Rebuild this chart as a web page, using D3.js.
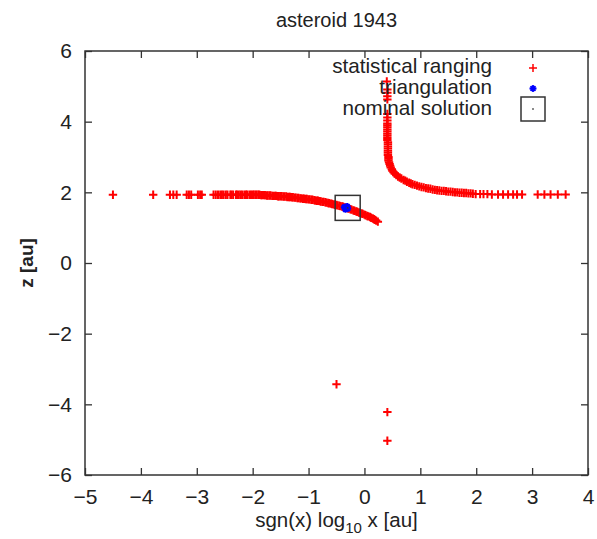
<!DOCTYPE html>
<html>
<head>
<meta charset="utf-8">
<script src="https://cdn.jsdelivr.net/npm/d3@7"></script>
<style>
  body { margin: 0; background: #fff; }
  text { font-family: "Liberation Sans", Arial, sans-serif; fill: #222; }
</style>
</head>
<body>
<div id="chart"></div>
<script>
// statistical ranging samples [sgn(x) log10 x, z]
const rangingLeft = [
  [-4.50, 1.93], [-3.78, 1.93], [-3.48, 1.93], [-3.42, 1.93], [-3.36, 1.93], [-3.18, 1.93],
  [-3.14, 1.93], [-3.10, 1.93], [-2.98, 1.93], [-2.94, 1.93], [-2.91, 1.93], [-2.70, 1.93],
  [-2.66, 1.93], [-2.62, 1.93], [-2.58, 1.93], [-2.55, 1.93], [-2.52, 1.93], [-2.48, 1.93],
  [-2.45, 1.93], [-2.40, 1.93], [-2.38, 1.93], [-2.35, 1.93], [-2.30, 1.93], [-2.28, 1.93],
  [-2.25, 1.93], [-2.22, 1.93], [-2.19, 1.93], [-2.15, 1.93], [-2.12, 1.93], [-2.10, 1.93],
  [-2.06, 1.93], [-2.03, 1.93], [-2.00, 1.93],
  [-1.98, 1.93], [-1.95, 1.93], [-1.93, 1.93], [-1.90, 1.93], [-1.88, 1.93], [-1.85, 1.92],
  [-1.83, 1.92], [-1.80, 1.92], [-1.78, 1.92], [-1.75, 1.91], [-1.73, 1.91], [-1.70, 1.91],
  [-1.68, 1.91], [-1.65, 1.90], [-1.63, 1.90], [-1.60, 1.90], [-1.58, 1.90], [-1.55, 1.89],
  [-1.53, 1.89], [-1.50, 1.89], [-1.48, 1.89], [-1.45, 1.88], [-1.43, 1.88], [-1.40, 1.88],
  [-1.38, 1.87], [-1.35, 1.87], [-1.33, 1.87], [-1.30, 1.86], [-1.28, 1.86], [-1.25, 1.85],
  [-1.23, 1.85], [-1.20, 1.84], [-1.18, 1.84], [-1.15, 1.83], [-1.13, 1.83], [-1.10, 1.82],
  [-1.08, 1.82], [-1.05, 1.81], [-1.03, 1.81], [-1.00, 1.80], [-0.98, 1.80], [-0.95, 1.79],
  [-0.93, 1.79], [-0.90, 1.78], [-0.88, 1.77], [-0.85, 1.76], [-0.83, 1.76], [-0.80, 1.75],
  [-0.78, 1.74], [-0.75, 1.73], [-0.73, 1.73], [-0.70, 1.72], [-0.68, 1.71], [-0.65, 1.70],
  [-0.63, 1.69], [-0.60, 1.68], [-0.58, 1.67], [-0.55, 1.66], [-0.53, 1.65], [-0.50, 1.64],
  [-0.48, 1.63], [-0.45, 1.62], [-0.43, 1.61], [-0.40, 1.60], [-0.38, 1.59], [-0.35, 1.57],
  [-0.33, 1.56], [-0.30, 1.55], [-0.28, 1.54], [-0.25, 1.52], [-0.23, 1.51], [-0.20, 1.49],
  [-0.18, 1.48], [-0.15, 1.46], [-0.13, 1.45], [-0.10, 1.43], [-0.08, 1.42], [-0.05, 1.40],
  [-0.03, 1.39], [0.00, 1.37], [0.02, 1.35], [0.05, 1.33], [0.07, 1.32], [0.10, 1.30],
  [0.12, 1.28], [0.15, 1.26], [0.17, 1.24], [0.19, 1.22], [0.21, 1.20], [0.24, 1.17]
];

const rangingRight = [
  [0.40, 5.14], [0.41, 4.91], [0.41, 4.82], [0.41, 4.72], [0.41, 4.63], [0.41, 4.22],
  [0.41, 4.12], [0.41, 4.03], [0.41, 3.95],
  [0.41, 3.90], [0.41, 3.84], [0.41, 3.78], [0.41, 3.72], [0.41, 3.66], [0.41, 3.60],
  [0.41, 3.54], [0.41, 3.48], [0.42, 3.42], [0.42, 3.36], [0.42, 3.30], [0.42, 3.24],
  [0.42, 3.18], [0.42, 3.12], [0.42, 3.06], [0.43, 3.00], [0.43, 2.95], [0.43, 2.90],
  [0.44, 2.85], [0.45, 2.80], [0.46, 2.75], [0.47, 2.70], [0.49, 2.65], [0.50, 2.61],
  [0.52, 2.57], [0.54, 2.53], [0.57, 2.49], [0.60, 2.45], [0.63, 2.42], [0.66, 2.39],
  [0.70, 2.35], [0.73, 2.33], [0.76, 2.30], [0.80, 2.27], [0.83, 2.25], [0.86, 2.23],
  [0.90, 2.21], [0.94, 2.19], [0.98, 2.17], [1.02, 2.15], [1.06, 2.14], [1.10, 2.12],
  [1.14, 2.11], [1.18, 2.10], [1.22, 2.08], [1.26, 2.07], [1.30, 2.06], [1.34, 2.05],
  [1.38, 2.04], [1.42, 2.04], [1.46, 2.03], [1.50, 2.02], [1.54, 2.02], [1.58, 2.01],
  [1.62, 2.00], [1.66, 2.00], [1.70, 1.99], [1.74, 1.99], [1.78, 1.98], [1.82, 1.98],
  [1.86, 1.97], [1.90, 1.97], [1.94, 1.96],
  [1.99, 1.95], [2.07, 1.95], [2.13, 1.95], [2.20, 1.95], [2.28, 1.94], [2.39, 1.94],
  [2.48, 1.94], [2.57, 1.94], [2.66, 1.94], [2.73, 1.94], [2.82, 1.94], [3.10, 1.94],
  [3.22, 1.94], [3.33, 1.94], [3.46, 1.94], [3.60, 1.94]
];

const rangingOutliers = [[-0.50, -3.43], [0.41, -4.22], [0.41, -5.03]];

const triangulation = [[-0.36, 1.58], [-0.33, 1.56], [-0.30, 1.54], [-0.34, 1.52], [-0.31, 1.60]];

const nominal = [[-0.30, 1.56]];

const xTicks = [-5, -4, -3, -2, -1, 0, 1, 2, 3, 4];
const yTicks = [-6, -4, -2, 0, 2, 4, 6];
const legendLabels = ["statistical ranging", "triangulation", "nominal solution"];

const width = 597, height = 539;
const margin = { top: 51, right: 9, bottom: 64, left: 85 };

const svg = d3.select("#chart").append("svg")
  .attr("width", width)
  .attr("height", height);

const x = d3.scaleLinear().domain([-5, 4]).range([margin.left, width - margin.right]);
const y = d3.scaleLinear().domain([-6, 6]).range([height - margin.bottom, margin.top]);

const frameColor = "#333";

// ticks on all four sides, pointing inward
const tickLen = 7;
svg.append("g")
  .attr("transform", `translate(0,${y(-6)})`)
  .call(d3.axisBottom(x).tickValues(xTicks).tickSize(-tickLen).tickPadding(14).tickFormat(d3.format("d")))
  .call(g => g.select(".domain").remove())
  .call(g => g.selectAll("line").attr("stroke", frameColor).attr("stroke-width", 1.3))
  .call(g => g.selectAll("text").attr("font-size", 21).attr("fill", "#222")
    .attr("font-family", "Liberation Sans, Arial, sans-serif"));

svg.append("g")
  .attr("transform", `translate(0,${y(6)})`)
  .call(d3.axisTop(x).tickValues(xTicks).tickSize(-tickLen).tickFormat(""))
  .call(g => g.select(".domain").remove())
  .call(g => g.selectAll("line").attr("stroke", frameColor).attr("stroke-width", 1.3));

svg.append("g")
  .attr("transform", `translate(${x(-5)},0)`)
  .call(d3.axisLeft(y).tickValues(yTicks).tickSize(-tickLen).tickPadding(13).tickFormat(d3.format("d")))
  .call(g => g.select(".domain").remove())
  .call(g => g.selectAll("line").attr("stroke", frameColor).attr("stroke-width", 1.3))
  .call(g => g.selectAll("text").attr("font-size", 21).attr("fill", "#222")
    .attr("font-family", "Liberation Sans, Arial, sans-serif"));

svg.append("g")
  .attr("transform", `translate(${x(4)},0)`)
  .call(d3.axisRight(y).tickValues(yTicks).tickSize(-tickLen).tickFormat(""))
  .call(g => g.select(".domain").remove())
  .call(g => g.selectAll("line").attr("stroke", frameColor).attr("stroke-width", 1.3));

// frame
svg.append("rect")
  .attr("x", x(-5)).attr("y", y(6))
  .attr("width", x(4) - x(-5)).attr("height", y(-6) - y(6))
  .attr("fill", "none").attr("stroke", frameColor).attr("stroke-width", 1.5);

// marker shapes
const plusPath = s => `M${-s},0H${s}M0,${-s}V${s}`;
const starPath = s => `M${-s},0H${s}M0,${-s}V${s}M${-s * 0.7},${-s * 0.7}L${s * 0.7},${s * 0.7}M${-s * 0.7},${s * 0.7}L${s * 0.7},${-s * 0.7}`;

const plot = svg.append("g");

const ranging = rangingLeft.concat(rangingRight, rangingOutliers);
plot.selectAll(".ranging")
  .data(ranging)
  .enter()
  .append("path")
  .attr("class", "ranging")
  .attr("transform", d => `translate(${x(d[0])},${y(d[1])})`)
  .attr("d", plusPath(4.2))
  .attr("stroke", "#ff0000")
  .attr("stroke-width", 2)
  .attr("fill", "none");

plot.selectAll(".tri")
  .data(triangulation)
  .enter()
  .append("path")
  .attr("class", "tri")
  .attr("transform", d => `translate(${x(d[0])},${y(d[1])})`)
  .attr("d", starPath(3.5))
  .attr("stroke", "#0000ff")
  .attr("stroke-width", 2)
  .attr("fill", "none");

const nomG = plot.selectAll(".nom")
  .data(nominal)
  .enter()
  .append("g")
  .attr("class", "nom")
  .attr("transform", d => `translate(${x(d[0])},${y(d[1])})`);
nomG.append("rect")
  .attr("x", -12.5).attr("y", -12.5).attr("width", 25).attr("height", 25)
  .attr("fill", "none").attr("stroke", "#333").attr("stroke-width", 1.5);
nomG.append("rect")
  .attr("x", -0.75).attr("y", -0.75).attr("width", 1.5).attr("height", 1.5)
  .attr("fill", "#333");

// legend
const legend = svg.append("g");
const legendRows = [73, 94, 115];
const sampleX = 533;
legendLabels.forEach((label, i) => {
  legend.append("text")
    .attr("x", 492)
    .attr("y", legendRows[i])
    .attr("text-anchor", "end")
    .attr("font-size", 20.7)
    .text(label);
});
legend.append("path")
  .attr("transform", `translate(${sampleX},68)`)
  .attr("d", plusPath(4))
  .attr("stroke", "#ff0000").attr("stroke-width", 1.5).attr("fill", "none");
legend.append("path")
  .attr("transform", `translate(${sampleX},88.5)`)
  .attr("d", starPath(3.5))
  .attr("stroke", "#0000ff").attr("stroke-width", 1.8).attr("fill", "none");
legend.append("rect")
  .attr("x", sampleX - 12).attr("y", 97).attr("width", 24).attr("height", 24)
  .attr("fill", "none").attr("stroke", "#333").attr("stroke-width", 1.5);
legend.append("rect")
  .attr("x", sampleX - 0.75).attr("y", 108.25).attr("width", 1.5).attr("height", 1.5)
  .attr("fill", "#333");

// title
svg.append("text")
  .attr("x", (x(-5) + x(4)) / 2)
  .attr("y", 27)
  .attr("text-anchor", "middle")
  .attr("font-size", 20)
  .text("asteroid 1943");

// x label with subscript
const xl = svg.append("text")
  .attr("x", (x(-5) + x(4)) / 2)
  .attr("y", 527)
  .attr("text-anchor", "middle")
  .attr("font-size", 20.5);
xl.append("tspan").text("sgn(x) log");
xl.append("tspan").attr("font-size", 15).attr("dy", 6).text("10");
xl.append("tspan").attr("dy", -6).text(" x [au]");

// y label
svg.append("text")
  .attr("transform", `translate(33,${y(0)}) rotate(-90)`)
  .attr("text-anchor", "middle")
  .attr("font-size", 19)
  .attr("font-weight", "bold")
  .text("z [au]");
</script>
</body>
</html>
